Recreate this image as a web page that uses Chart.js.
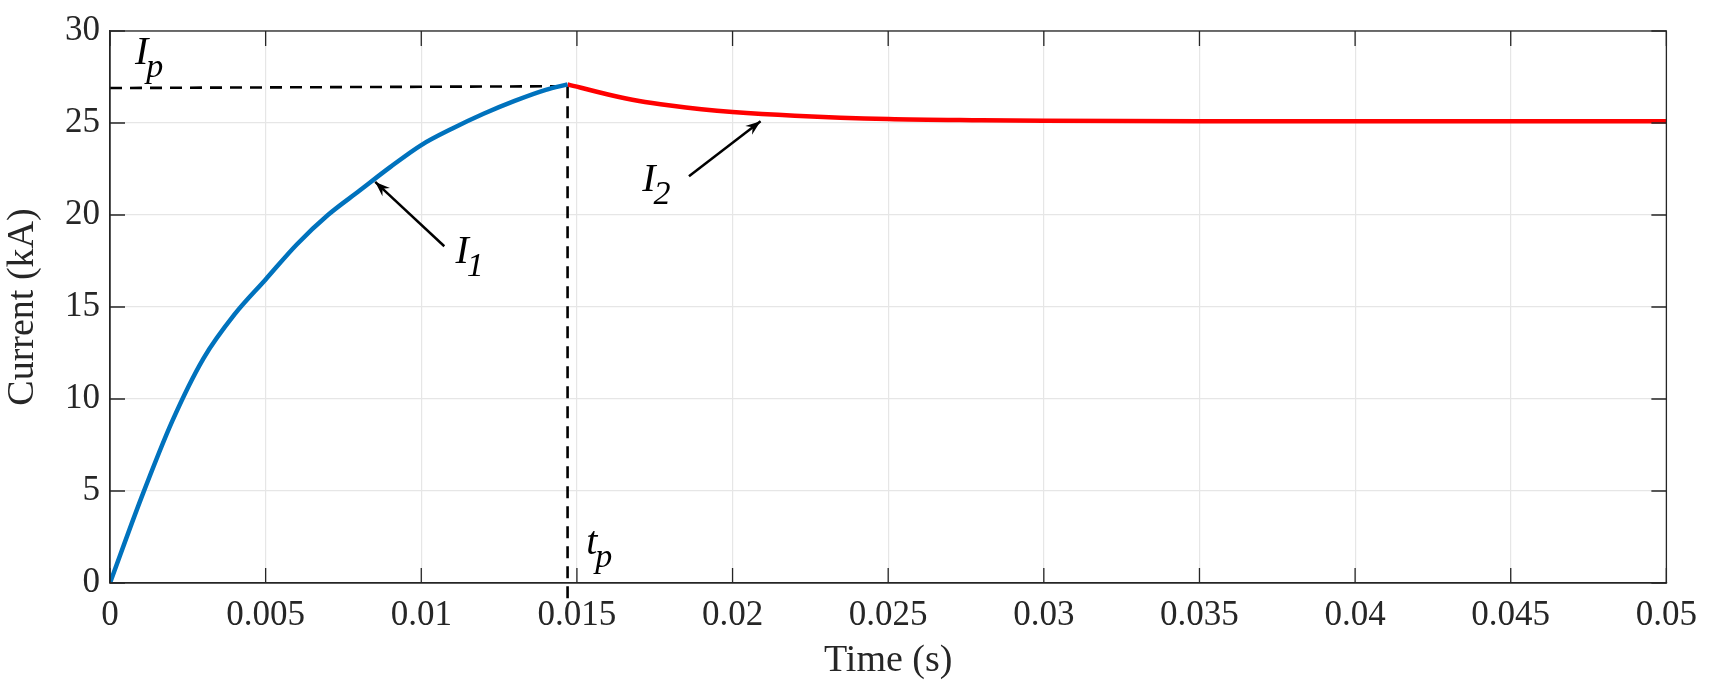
<!DOCTYPE html>
<html>
<head>
<meta charset="utf-8">
<script src="https://cdn.jsdelivr.net/npm/chart.js@4/dist/chart.umd.min.js"></script>
<style>
  html, body { margin: 0; padding: 0; background: #fff; }
  #wrap { width: 1709px; height: 696px; }
</style>
</head>
<body>
<div id="wrap"><canvas id="c" width="1709" height="696"></canvas></div>
<script>
// I1: rising current up to the peak
const i1Time = [0, 0.001, 0.002, 0.003, 0.004, 0.005, 0.006, 0.007, 0.008, 0.009, 0.010, 0.011, 0.012, 0.013, 0.014, 0.0147];
const i1Values = [0, 4.6, 8.8, 12.2, 14.6, 16.5, 18.4, 20.0, 21.3, 22.6, 23.8, 24.7, 25.5, 26.2, 26.8, 27.1];
// I2: decay to steady state after the peak
const i2Time = [0.0147, 0.016, 0.017, 0.018, 0.019, 0.020, 0.022, 0.025, 0.028, 0.030, 0.035, 0.040, 0.045, 0.050];
const i2Values = [27.1, 26.55, 26.2, 25.95, 25.75, 25.6, 25.4, 25.22, 25.15, 25.12, 25.1, 25.1, 25.1, 25.1];
// peak markers
const peakTime = 0.0147;
const peakCurrent = 27.0;
const xTicks = [0, 0.005, 0.01, 0.015, 0.02, 0.025, 0.03, 0.035, 0.04, 0.045, 0.05];
const yTicks = [0, 5, 10, 15, 20, 25, 30];

const serif = "'Liberation Serif', 'Times New Roman', serif";

const toPts = (xs, ys) => xs.map((x, i) => ({ x: x, y: ys[i] }));

// arrows and italic labels, drawn in data coordinates
const annotations = {
  id: 'annotations',
  afterDatasetsDraw(chart) {
    const { ctx, scales: { x, y }, chartArea: a } = chart;
    ctx.save();
    // box on top and right
    ctx.strokeStyle = '#262626';
    ctx.lineWidth = 1.3;
    ctx.strokeRect(a.left, a.top, a.right - a.left, a.bottom - a.top);
    // inward ticks
    ctx.beginPath();
    xTicks.forEach(t => {
      const px = x.getPixelForValue(t);
      ctx.moveTo(px, a.bottom); ctx.lineTo(px, a.bottom - 15);
      ctx.moveTo(px, a.top); ctx.lineTo(px, a.top + 15);
    });
    yTicks.forEach(t => {
      const py = y.getPixelForValue(t);
      ctx.moveTo(a.left, py); ctx.lineTo(a.left + 15, py);
      ctx.moveTo(a.right, py); ctx.lineTo(a.right - 15, py);
    });
    ctx.stroke();

    const arrow = (x0, y0, x1, y1) => {
      const ax = x.getPixelForValue(x0), ay = y.getPixelForValue(y0);
      const bx = x.getPixelForValue(x1), by = y.getPixelForValue(y1);
      ctx.strokeStyle = '#000'; ctx.fillStyle = '#000'; ctx.lineWidth = 2.5;
      ctx.beginPath(); ctx.moveTo(ax, ay); ctx.lineTo(bx, by); ctx.stroke();
      const ang = Math.atan2(by - ay, bx - ax);
      ctx.beginPath();
      ctx.moveTo(bx, by);
      ctx.lineTo(bx - 16 * Math.cos(ang - 0.35), by - 16 * Math.sin(ang - 0.35));
      ctx.lineTo(bx - 10 * Math.cos(ang), by - 10 * Math.sin(ang));
      ctx.lineTo(bx - 16 * Math.cos(ang + 0.35), by - 16 * Math.sin(ang + 0.35));
      ctx.closePath(); ctx.fill();
    };
    arrow(0.01074, 18.3, 0.00852, 21.8);
    arrow(0.0186, 22.1, 0.0209, 25.1);

    const label = (tx, ty, main, sub) => {
      const px = x.getPixelForValue(tx), py = y.getPixelForValue(ty);
      ctx.fillStyle = '#000';
      ctx.textBaseline = 'alphabetic';
      ctx.font = `italic 40px ${serif}`;
      ctx.fillText(main, px, py);
      const w = ctx.measureText(main).width;
      ctx.font = `italic 34px ${serif}`;
      ctx.fillText(sub, px + w - 2, py + 13);
    };
    label(0.0008, 28.2, 'I', 'p');
    label(0.0111, 17.4, 'I', '1');
    label(0.0171, 21.3, 'I', '2');
    label(0.0153, 1.6, 't', 'p');
    ctx.restore();
  }
};

new Chart(document.getElementById('c'), {
  type: 'scatter',
  data: {
    datasets: [
      { data: toPts(i1Time, i1Values), showLine: true, cubicInterpolationMode: 'monotone', borderColor: '#0072BD', borderWidth: 4.5, pointRadius: 0, order: 1 },
      { data: toPts(i2Time, i2Values), showLine: true, cubicInterpolationMode: 'monotone', borderColor: '#FF0000', borderWidth: 4.5, pointRadius: 0, order: 1 },
      { data: [{ x: 0, y: 26.9 }, { x: peakTime, y: peakCurrent }], showLine: true, borderColor: '#000', borderWidth: 2.6, borderDash: [12, 8], pointRadius: 0, order: 2 },
      { data: [{ x: peakTime, y: peakCurrent }, { x: peakTime, y: -1.0 }], showLine: true, borderColor: '#000', borderWidth: 2.6, borderDash: [12, 8], pointRadius: 0, clip: false, order: 2 }
    ]
  },
  options: {
    responsive: false,
    animation: false,
    layout: { padding: { top: 23, right: 40, left: 0, bottom: 12 } },
    plugins: { legend: { display: false }, tooltip: { enabled: false } },
    scales: {
      x: {
        type: 'linear', min: 0, max: 0.05,
        afterBuildTicks: s => { s.ticks = xTicks.map(v => ({ value: v })); },
        afterFit: s => { s.height = 101; },
        grid: { color: '#e6e6e6', lineWidth: 1.2, drawTicks: false },
        border: { color: '#262626', width: 1.3 },
        ticks: { color: '#262626', font: { family: serif, size: 35 }, padding: 12, maxRotation: 0, callback: v => String(v) },
        title: { display: true, text: 'Time (s)', color: '#262626', font: { family: serif, size: 38 }, padding: { top: 0, bottom: 0 } }
      },
      y: {
        min: 0, max: 30,
        afterBuildTicks: s => { s.ticks = yTicks.map(v => ({ value: v })); },
        afterFit: s => { s.width = 110; },
        grid: { color: '#e6e6e6', lineWidth: 1.2, drawTicks: false },
        border: { color: '#262626', width: 1.3 },
        ticks: { color: '#262626', font: { family: serif, size: 35 }, padding: 10 },
        title: { display: true, text: 'Current (kA)', color: '#262626', font: { family: serif, size: 38 }, padding: { top: 0, bottom: 0 } }
      }
    }
  },
  plugins: [annotations]
});
</script>
</body>
</html>
